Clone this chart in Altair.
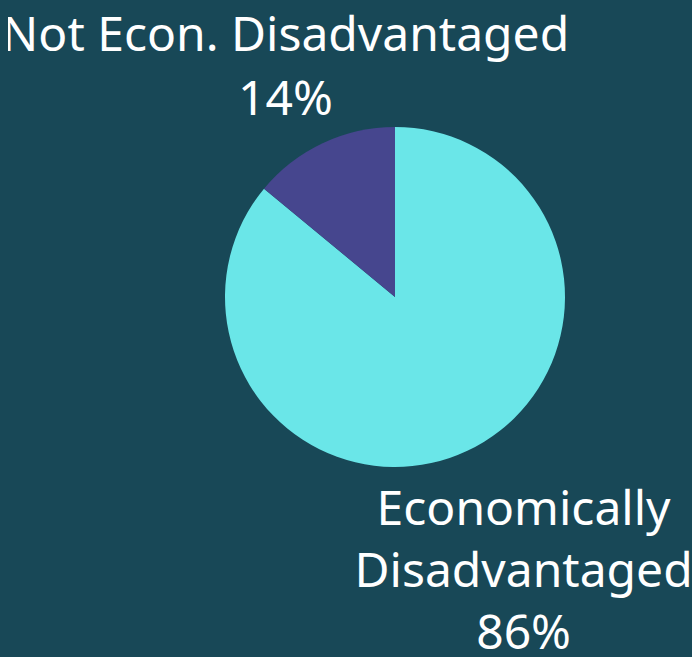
import altair as alt
import pandas as pd

categories = ["Economically Disadvantaged", "Not Econ. Disadvantaged"]
values = [86, 14]
labels = ["Economically\nDisadvantaged\n86%", "Not Econ. Disadvantaged\n14%"]
order = [0, 1]
colors = ["#6AE6E8", "#46468E"]

BG = "#184857"
df = pd.DataFrame({"category": categories, "value": values, "label": labels, "order": order})

CX, CY = 387, 289

base = alt.Chart(df).transform_stack(
    stack="value", groupby=[], as_=["v0", "v1"], sort=[alt.SortField("order", order="ascending")]
).transform_calculate(mid="(datum.v0 + datum.v1) / 2")

tscale = alt.Scale(domain=[0, 100])

pie = base.mark_arc(outerRadius=170, stroke=None).encode(
    theta=alt.Theta("v0:Q", scale=tscale),
    theta2="v1:Q",
    color=alt.Color("category:N", scale=alt.Scale(domain=categories, range=colors), legend=None),
    x=alt.value(CX), y=alt.value(CY),
)

txt_econ = base.transform_filter(alt.datum.order == 0).mark_text(
    radius=302, dy=-59, font="Noto Sans", fontSize=48, color="white",
    align="center", baseline="middle", lineBreak="\n", lineHeight=62,
).encode(
    theta=alt.Theta("mid:Q", scale=tscale),
    text="label:N", x=alt.value(CX), y=alt.value(CY),
)

txt_not = base.transform_filter(alt.datum.order == 1).mark_text(
    radius=290, dx=14, dy=2, font="Noto Sans",
    fontSize=48, color="white",
    align="center", baseline="middle", lineBreak="\n", lineHeight=64,
).encode(
    theta=alt.Theta("mid:Q", scale=tscale),
    text="label:N", x=alt.value(CX), y=alt.value(CY),
)

chart = alt.layer(pie, txt_econ, txt_not).properties(
    width=684, height=649,
    background=BG,
    padding=0,
    autosize=alt.AutoSizeParams(type="none"),
).configure_view(stroke=None)

chart.save("out.html", embed_options={"renderer": "svg", "actions": False,
                                      "defaultStyle": "body { background: %s; margin: 8px 0 0 8px; overflow: hidden; }" % BG})
